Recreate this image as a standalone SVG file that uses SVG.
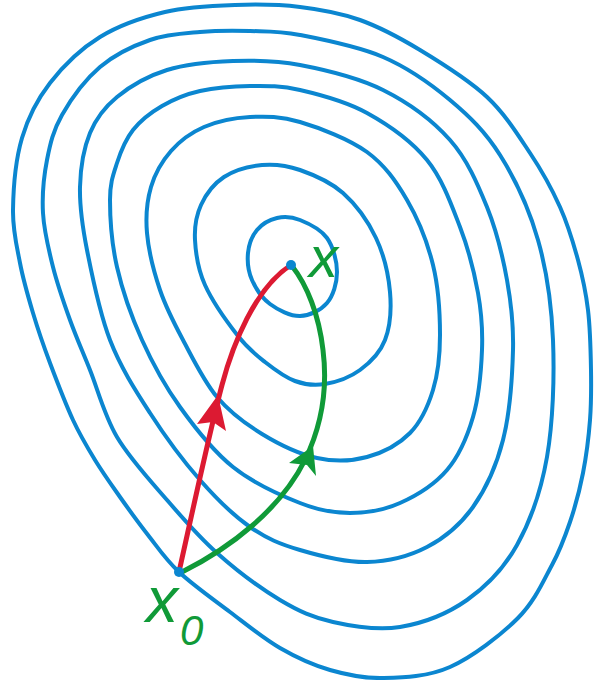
<svg xmlns="http://www.w3.org/2000/svg" width="600" height="680" viewBox="0 0 600 680">
<style>
.contour{fill:none;stroke:#0b86d0;stroke-width:4;stroke-linejoin:round}
.red{fill:none;stroke:#dc1a32;stroke-width:5;stroke-linecap:round}
.green{fill:none;stroke:#109a38;stroke-width:5;stroke-linecap:round}
.dot{fill:#0b86d0}
.lbl{font-family:"Liberation Sans",Arial,sans-serif;font-style:italic;fill:#109a38}
</style>
<rect width="600" height="680" fill="#ffffff"/>
<g id="contours">
<path class="contour" d="M300,220 C308.3,223.3 320.8,229.3 327,238 C333.2,246.7 337,261.2 337,272 C337,282.8 333.2,295.7 327,303 C320.8,310.3 309.5,315.8 300,316 C290.5,316.2 278,310 270,304 C262,298 255.7,288.5 252,280 C248.3,271.5 247.2,261.3 248,253 C248.8,244.7 252.2,235.8 257,230 C261.8,224.2 269.8,219.7 277,218 C284.2,216.3 291.7,216.7 300,220 Z"/>
<path class="contour" d="M262,165 C274.7,163.8 286.5,165.3 300,170 C313.5,174.7 330.3,181.7 343,193 C355.7,204.3 368.2,221.5 376,238 C383.8,254.5 388.5,275 390,292 C391.5,309 390,327 385,340 C380,353 370,362.7 360,370 C350,377.3 335.8,382.2 325,384 C314.2,385.8 305,384.7 295,381 C285,377.3 274.5,369.5 265,362 C255.5,354.5 248,348.8 238,336 C228,323.2 212.2,301 205,285 C197.8,269 195.7,253.3 195,240 C194.3,226.7 196.2,215.5 201,205 C205.8,194.5 213.8,183.7 224,177 C234.2,170.3 249.3,166.2 262,165 Z"/>
<path class="contour" d="M250,117 C266,116.2 280.5,116.2 300,122 C319.5,127.8 349.2,139 367,152 C384.8,165 396,181.2 407,200 C418,218.8 427.5,242.5 433,265 C438.5,287.5 440,314.2 440,335 C440,355.8 438,373.7 433,390 C428,406.3 421,421.8 410,433 C399,444.2 382.5,452.8 367,457 C351.5,461.2 334.5,461.8 317,458 C299.5,454.2 278.7,444.2 262,434 C245.3,423.8 230.2,412.7 217,397 C203.8,381.3 192.5,357.8 183,340 C173.5,322.2 166,307.8 160,290 C154,272.2 148.5,250.2 147,233 C145.5,215.8 147,200.7 151,187 C155,173.3 162.2,161 171,151 C179.8,141 190.8,132.7 204,127 C217.2,121.3 234,117.8 250,117 Z"/>
<path class="contour" d="M250,86 C266.7,85.8 280.5,85.5 300,90 C319.5,94.5 345.8,101.3 367,113 C388.2,124.7 411.5,141 427,160 C442.5,179 451.5,204.8 460,227 C468.5,249.2 474.3,272.5 478,293 C481.7,313.5 482.8,329.3 482,350 C481.2,370.7 478.8,397 473,417 C467.2,437 459.2,455.7 447,470 C434.8,484.3 416.2,495.8 400,503 C383.8,510.2 366.7,513 350,513 C333.3,513 319.5,510.7 300,503 C280.5,495.3 253,483 233,467 C213,451 195.2,428.2 180,407 C164.8,385.8 152.5,363.3 142,340 C131.5,316.7 122.3,290.3 117,267 C111.7,243.7 110,217.3 110,200 C110,182.7 113.2,174.7 117,163 C120.8,151.3 125.5,139.5 133,130 C140.5,120.5 150.8,112.5 162,106 C173.2,99.5 185.3,94.3 200,91 C214.7,87.7 233.3,86.2 250,86 Z"/>
<path class="contour" d="M233,61 C255.2,60.2 275,60.2 300,65 C325,69.8 358,77.5 383,90 C408,102.5 432.7,120.5 450,140 C467.3,159.5 477.5,183.7 487,207 C496.5,230.7 502.7,256.2 507,280 C511.3,303.8 513.7,323.3 513,350 C512.3,376.7 509.7,413.8 503,440 C496.3,466.2 485.7,489.2 473,507 C460.3,524.8 444.7,537.8 427,547 C409.3,556.2 388.2,561.5 367,562 C345.8,562.5 319.5,555.8 300,550 C280.5,544.2 266.7,538.7 250,527 C233.3,515.3 216.7,499 200,480 C183.3,461 165,436.3 150,413 C135,389.7 120.5,367.2 110,340 C99.5,312.8 92,275.5 87,250 C82,224.5 79.5,206.5 80,187 C80.5,167.5 83.8,148 90,133 C96.2,118 104.2,107.5 117,97 C129.8,86.5 147.7,76 167,70 C186.3,64 210.8,61.8 233,61 Z"/>
<path class="contour" d="M200,32 C216.7,30.5 233.3,30.5 250,31 C266.7,31.5 277.8,30.7 300,35 C322.2,39.3 358,46.2 383,57 C408,67.8 430.5,83.7 450,100 C469.5,116.3 485.3,131.7 500,155 C514.7,178.3 529.2,209.2 538,240 C546.8,270.8 551.5,303.8 553,340 C554.5,376.2 553,422.8 547,457 C541,491.2 530.3,521.2 517,545 C503.7,568.8 486.5,586.3 467,600 C447.5,613.7 422.3,623.3 400,627 C377.7,630.7 353,626.5 333,622 C313,617.5 299.3,611.5 280,600 C260.7,588.5 235.8,569.7 217,553 C198.2,536.3 183.7,519.3 167,500 C150.3,480.7 129.8,458.7 117,437 C104.2,415.3 97.8,389.5 90,370 C82.2,350.5 76.2,337.2 70,320 C63.8,302.8 57.5,284.8 53,267 C48.5,249.2 44,230.8 43,213 C42,195.2 43.8,176.3 47,160 C50.2,143.7 53.2,130.5 62,115 C70.8,99.5 85.3,79.5 100,67 C114.7,54.5 133.3,45.8 150,40 C166.7,34.2 183.3,33.5 200,32 Z"/>
<path class="contour" d="M235,5 C257.5,4.2 279.2,4.5 300,7 C320.8,9.5 340,12.8 360,20 C380,27.2 398.8,37.2 420,50 C441.2,62.8 468.7,79.8 487,97 C505.3,114.2 517.8,134.7 530,153 C542.2,171.3 552,189.2 560,207 C568,224.8 573.3,242.8 578,260 C582.7,277.2 585.8,291.7 588,310 C590.2,328.3 590.7,351.7 591,370 C591.3,388.3 591.3,402.8 590,420 C588.7,437.2 586.3,456 583,473 C579.7,490 575.2,506.7 570,522 C564.8,537.3 560.7,549 552,565 C543.3,581 535,601 518,618 C501,635 472.5,657 450,667 C427.5,677 403,677.5 383,678 C363,678.5 347.2,675 330,670 C312.8,665 296.7,657.7 280,648 C263.3,638.3 246.8,624.7 230,612 C213.2,599.3 192.7,584.8 179,572 C165.3,559.2 157.8,547.5 148,535 C138.2,522.5 128.8,509.5 120,497 C111.2,484.5 102.8,472.8 95,460 C87.2,447.2 80.5,436.2 73,420 C65.5,403.8 56.7,380.8 50,363 C43.3,345.2 38,329.7 33,313 C28,296.3 23.3,280.2 20,263 C16.7,245.8 12.7,230.8 13,210 C13.3,189.2 15.8,159.2 22,138 C28.2,116.8 37,99.8 50,83 C63,66.2 80.8,48.8 100,37 C119.2,25.2 142.5,17.3 165,12 C187.5,6.7 212.5,5.8 235,5 Z"/>
</g>
<g id="connectors">
<path id="steepest-descent" class="red" d="M179,572 C195,500 210,430 222,385 C232.8,344.5 255,288 291,265"/>
<polygon fill="#dc1a32" points="218,395 226,431 213,422 197,424"/>
<path id="conjugate-gradient" class="green" d="M182,572 C230,548 280,510 305,460 C322,425 328,390 323,350 C319,315 307,285 292,266"/>
<polygon fill="#109a38" points="313,446 316,476 307,465 289,463"/>
</g>
<g id="node-x">
<circle class="dot" cx="291" cy="265" r="5"/>
<text class="lbl" x="309" y="277" font-size="58">x</text>
</g>
<g id="node-x0">
<circle class="dot" cx="179" cy="572" r="5"/>
<text class="lbl" x="146" y="622" font-size="64">x<tspan x="180" y="645" font-size="42">0</tspan></text>
</g>
</svg>
